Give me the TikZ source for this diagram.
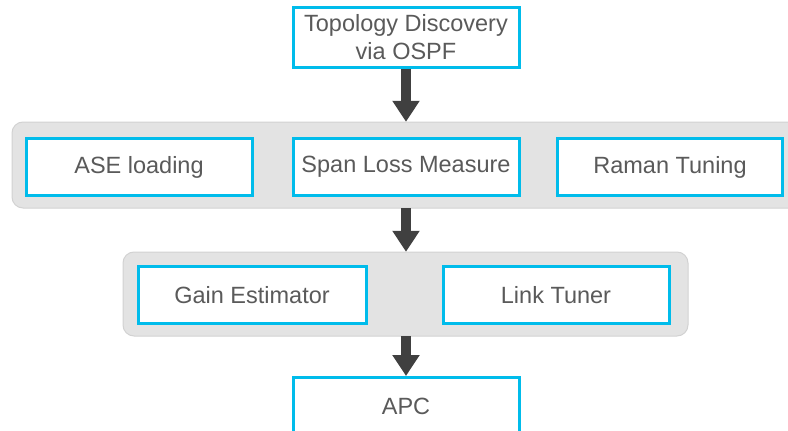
\documentclass[tikz,border=0pt]{standalone}
\usepackage{fontspec}
\setmainfont{Liberation Sans}
\usetikzlibrary{arrows.meta}
\definecolor{boxcyan}{HTML}{00BCEB}
\definecolor{panelgray}{HTML}{E3E3E3}
\definecolor{panelline}{HTML}{D2D2D2}
\definecolor{arrowgray}{HTML}{404040}
\definecolor{textgray}{HTML}{5A5A5A}
\tikzset{
  stagebox/.style={draw=boxcyan, line width=3pt, fill=white, rectangle,
    minimum width=226pt, minimum height=57pt, inner sep=0pt,
    font=\fontsize{23.5}{27.5}\selectfont, text=textgray, align=center},
  panel/.style={draw=panelline, line width=1pt, fill=panelgray, rounded corners=11pt},
  flow/.style={draw=arrowgray, line width=10pt,
    -{Triangle[width=26pt,length=21pt]}, shorten >=0pt},
  anchorpt/.style={inner sep=0pt, minimum size=0pt}
}
\begin{document}
\begin{tikzpicture}[x=1pt,y=-1pt]
\useasboundingbox (0,0) rectangle (788,431);
\begin{scope}
\clip (0,0) rectangle (788,431);
% grey group panels
\draw[panel] (12,122) rectangle (806,208);
\node[anchorpt] (p1top) at (406,122) {};
\node[anchorpt] (p1bot) at (406,208) {};
\draw[panel] (123,252) rectangle (688,336);
\node[anchorpt] (p2top) at (406,252) {};
\node[anchorpt] (p2bot) at (406,336) {};

% stages
\node[stagebox, minimum height=60pt] (topo) at (406,37) {Topology Discovery\\via OSPF};
\node[stagebox] (ase) at (139,167) {ASE loading};
\node[stagebox] (span) at (406,167) {Span Loss Measure};
\node[stagebox, minimum width=225pt] (raman) at (670,167) {Raman Tuning};
\node[stagebox, minimum width=228pt] (gain) at (252,295) {Gain Estimator};
\node[stagebox] (link) at (556,295) {Link Tuner};
\node[stagebox] (apc) at (406,406) {APC};

% flow arrows
\draw[flow] (topo.south) -- (p1top);
\draw[flow] (p1bot) -- (p2top);
\draw[flow] (p2bot) -- (apc.north);
\end{scope}
\end{tikzpicture}
\end{document}
